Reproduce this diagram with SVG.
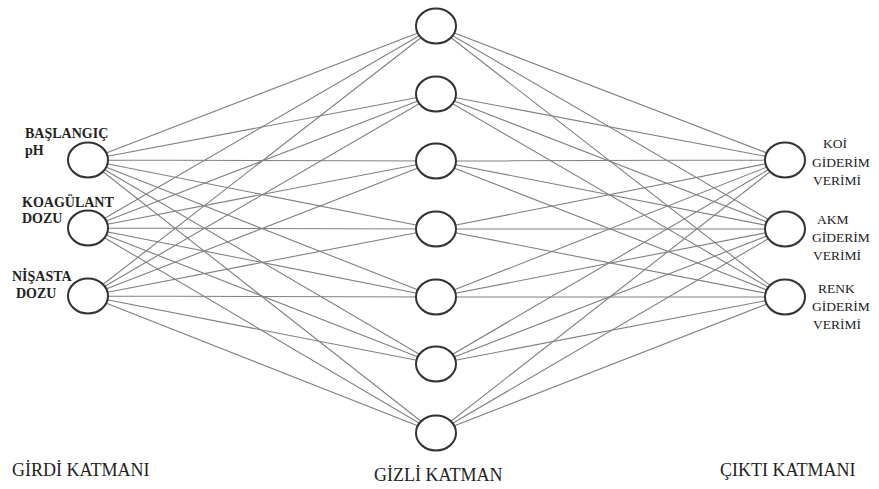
<svg xmlns="http://www.w3.org/2000/svg" width="879" height="489" viewBox="0 0 879 489">
<style>
.e{stroke:#808080;stroke-width:1.1;fill:none}
.n{fill:#fff;stroke:#333;stroke-width:2}
</style>
<rect width="879" height="489" fill="#fff"/>
<g id="connectors">
<g class="e">
<path d="M88 160L436 26M88 160L436 94M88 160L436 161M88 160L436 229M88 160L436 297M88 160L436 364M88 160L436 433"/>
<path d="M88 228L436 26M88 228L436 94M88 228L436 161M88 228L436 229M88 228L436 297M88 228L436 364M88 228L436 433"/>
<path d="M88 296L436 26M88 296L436 94M88 296L436 161M88 296L436 229M88 296L436 297M88 296L436 364M88 296L436 433"/>
<path d="M785 160L436 26M785 160L436 94M785 160L436 161M785 160L436 229M785 160L436 297M785 160L436 364M785 160L436 433"/>
<path d="M785 229L436 26M785 229L436 94M785 229L436 161M785 229L436 229M785 229L436 297M785 229L436 364M785 229L436 433"/>
<path d="M785 297L436 26M785 297L436 94M785 297L436 161M785 297L436 229M785 297L436 297M785 297L436 364M785 297L436 433"/>
</g>
</g>
<g font-family="Liberation Serif, DejaVu Serif, serif" fill="#222">
<g id="in1"><ellipse class="n" cx="88" cy="160" rx="20" ry="17.5"/><g font-weight="bold" font-size="14"><text x="25" y="138">BAŞLANGIÇ</text><text x="25" y="155">pH</text></g></g>
<g id="in2"><ellipse class="n" cx="88" cy="228" rx="20" ry="17.5"/><g font-weight="bold" font-size="14"><text x="22" y="207">KOAGÜLANT</text><text x="22" y="223">DOZU</text></g></g>
<g id="in3"><ellipse class="n" cx="88" cy="296" rx="20" ry="17.5"/><g font-weight="bold" font-size="14"><text x="12" y="281">NİŞASTA</text><text x="16" y="298">DOZU</text></g></g>
<g id="h1"><ellipse class="n" cx="436" cy="26" rx="20" ry="17.5"/></g>
<g id="h2"><ellipse class="n" cx="436" cy="94" rx="20" ry="17.5"/></g>
<g id="h3"><ellipse class="n" cx="436" cy="161" rx="20" ry="17.5"/></g>
<g id="h4"><ellipse class="n" cx="436" cy="229" rx="20" ry="17.5"/></g>
<g id="h5"><ellipse class="n" cx="436" cy="297" rx="20" ry="17.5"/></g>
<g id="h6"><ellipse class="n" cx="436" cy="364" rx="20" ry="17.5"/></g>
<g id="h7"><ellipse class="n" cx="436" cy="433" rx="20" ry="17.5"/></g>
<g id="out1"><ellipse class="n" cx="785" cy="160" rx="20" ry="17.5"/><g font-size="13.5"><text x="823" y="148">KOİ</text><text x="812" y="167">GİDERİM</text><text x="813" y="185">VERİMİ</text></g></g>
<g id="out2"><ellipse class="n" cx="785" cy="229" rx="20" ry="17.5"/><g font-size="13.5"><text x="817" y="224">AKM</text><text x="812" y="242">GİDERİM</text><text x="813" y="260">VERİMİ</text></g></g>
<g id="out3"><ellipse class="n" cx="785" cy="297" rx="20" ry="17.5"/><g font-size="13.5"><text x="818" y="293">RENK</text><text x="812" y="311">GİDERİM</text><text x="813" y="329">VERİMİ</text></g></g>
<g id="layer-labels" font-size="18">
<text x="12" y="476">GİRDİ KATMANI</text>
<text x="374" y="481">GİZLİ KATMAN</text>
<text x="720" y="476">ÇIKTI KATMANI</text>
</g>
</g>
</svg>
